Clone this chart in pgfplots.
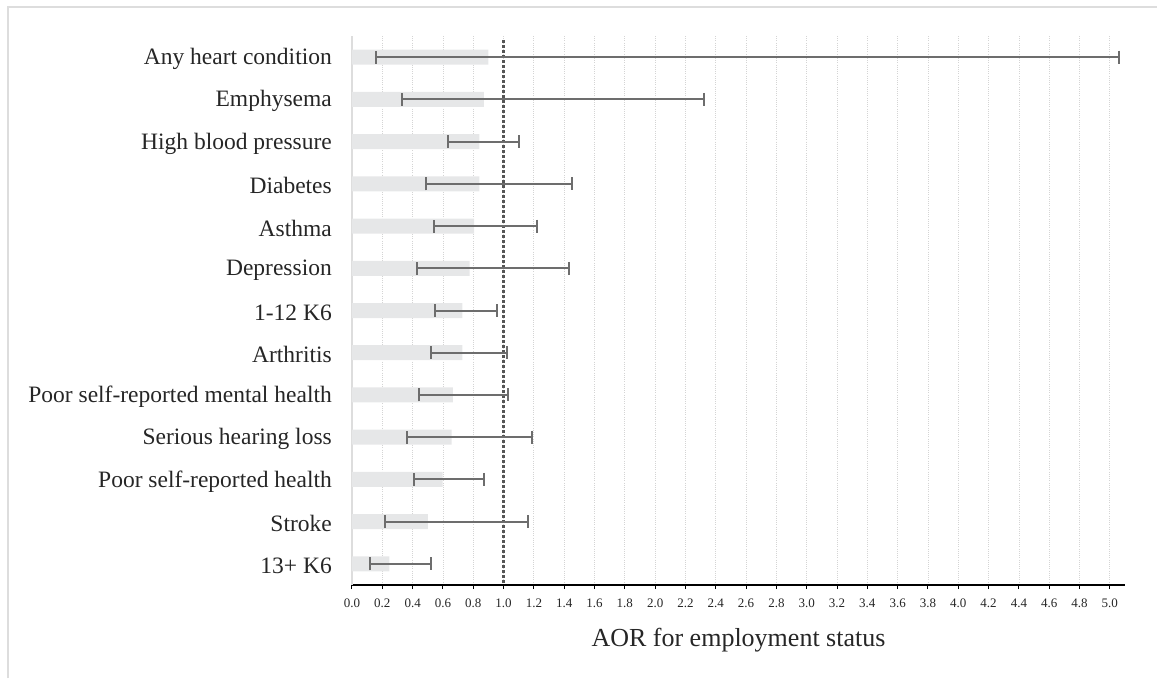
\documentclass[border=0pt]{standalone}
\usepackage{fontspec}
\setmainfont{Liberation Serif}
\usepackage{pgfplots}
\pgfplotsset{compat=1.18}
\usepackage{pgfplotstable}
\definecolor{barc}{HTML}{E6E7E8}
\definecolor{errc}{HTML}{6D6D6D}
\definecolor{refc}{HTML}{555555}
\definecolor{framec}{HTML}{DDDDDD}
\definecolor{gridc}{HTML}{D4D4D4}

\pgfplotstableread{
idx val lo hi
0 0.90 0.156 5.06
1 0.87 0.33 2.32
2 0.84 0.635 1.10
3 0.84 0.49 1.45
4 0.805 0.54 1.22
5 0.776 0.43 1.43
6 0.728 0.55 0.956
7 0.728 0.52 1.02
8 0.666 0.44 1.03
9 0.658 0.36 1.19
10 0.598 0.41 0.87
11 0.50 0.216 1.16
12 0.246 0.119 0.52
}\data

\begin{document}
\begin{tikzpicture}[x=1pt,y=1pt]
\useasboundingbox (0,0) rectangle (1157,678);
\draw[framec, line width=1.5pt] (8,0) -- (8,671) -- (1157,671);
\begin{axis}[
  at={(352pt,93pt)}, anchor=south west,
  scale only axis, width=773pt, height=549pt,
  xmin=0, xmax=5.1, ymin=-0.5, ymax=12.5,
  y dir=reverse,
  axis x line*=bottom, axis y line*=left,
  x axis line style={black, line width=1.5pt},
  y axis line style={framec, line width=1.5pt},
  xtick={0,0.2,...,5.01},
  xtick align=outside,
  major tick length=4pt,
  x tick style={black, line width=1pt},
  xmajorgrids,
  major grid style={gridc, line width=0.8pt, dash pattern=on 1pt off 1.2pt},
  ytick={0,...,12},
  yticklabels={Any heart condition, Emphysema, High blood pressure, Diabetes, Asthma, Depression, 1-12 K6, Arthritis, Poor self-reported mental health, Serious hearing loss, Poor self-reported health, Stroke, 13+ K6},
  y tick style={draw=none},
  y tick label style={font=\fontsize{23.5}{24}\selectfont, color=black!85, inner sep=0pt, xshift=-20pt, yshift=-2pt},
  x tick label style={font=\fontsize{13}{13}\selectfont, color=black!85, yshift=-6pt},
  /pgf/number format/.cd, fixed, fixed zerofill, precision=1, assume math mode=true,
  /pgfplots/.cd,
  xlabel={AOR for employment status},
  xlabel style={font=\fontsize{26}{26}\selectfont, color=black!85, yshift=-14pt},
  clip=false,
]
\addplot[xbar, bar width=15pt, bar shift=0pt, fill=barc, draw=none] table[x=val, y=idx]{\data};
\addplot[refc, line width=2.5pt, dash pattern=on 2.5pt off 2.5pt] coordinates {(1,-0.4) (1,12.5)};
\addplot[draw=none, mark=none,
  error bars/.cd, x dir=both, x explicit, error mark=|,
  error bar style={draw=errc, line width=2pt},
  error mark options={draw=errc, line width=2pt, mark size=6.5pt}]
  table[x=val, y=idx, x error plus expr=\thisrow{hi}-\thisrow{val}, x error minus expr=\thisrow{val}-\thisrow{lo}]{\data};
\end{axis}
\end{tikzpicture}
\end{document}
